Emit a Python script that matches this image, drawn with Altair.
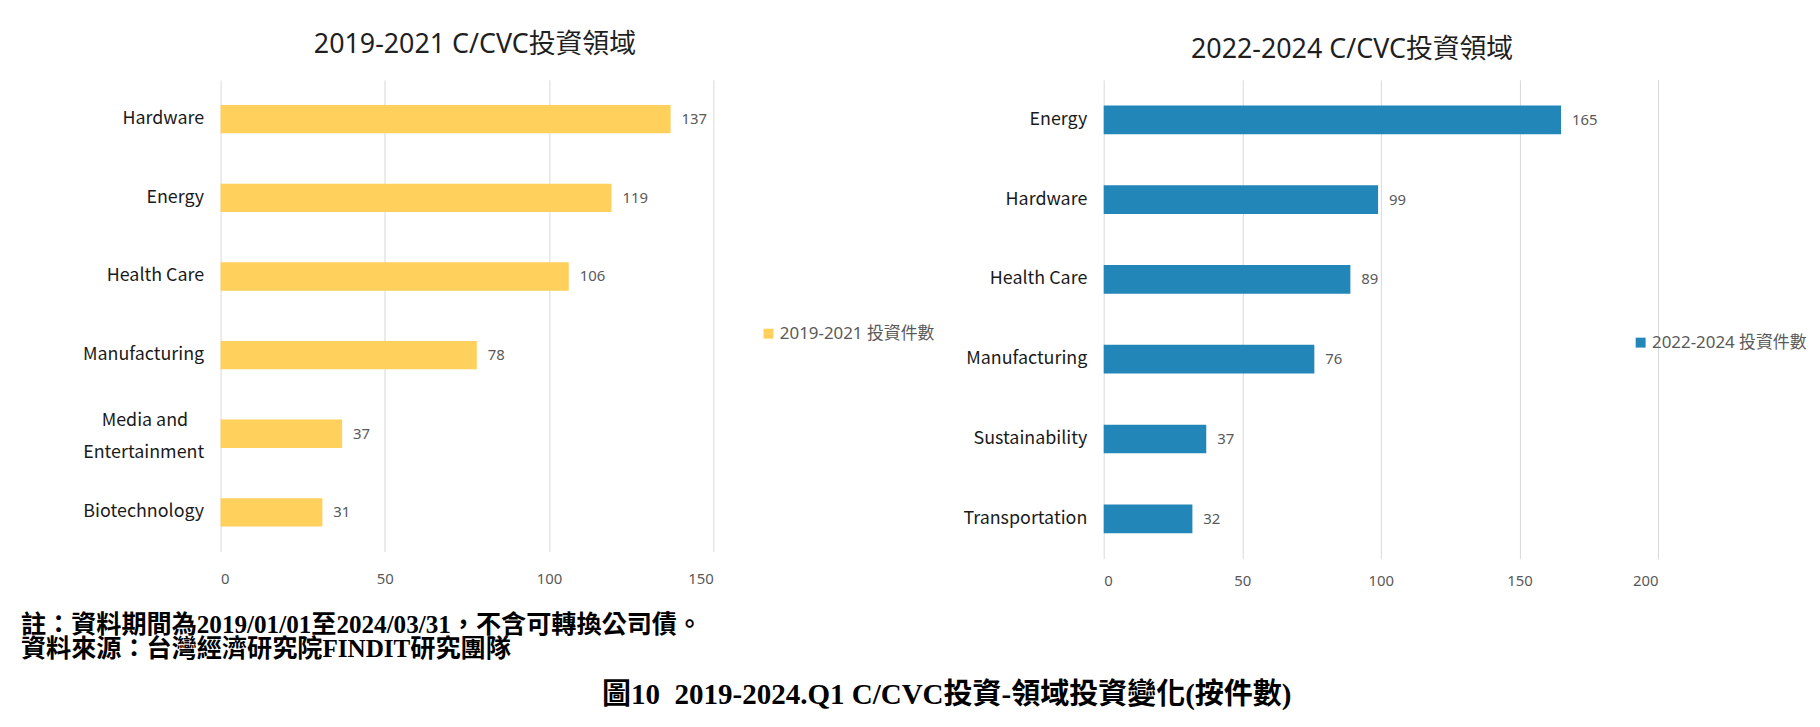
import altair as alt
import pandas as pd

# ---- data ----
left_cats = ["Hardware", "Energy", "Health Care", "Manufacturing", "Media and Entertainment", "Biotechnology"]
left_vals = [137, 119, 106, 78, 37, 31]
right_cats = ["Energy", "Hardware", "Health Care", "Manufacturing", "Sustainability", "Transportation"]
right_vals = [165, 99, 89, 76, 37, 32]
left_series = "2019-2021 投資件數"
right_series = "2022-2024 投資件數"
left_title = "2019-2021 C/CVC投資領域"
right_title = "2022-2024 C/CVC投資領域"
left_ticks = [0, 50, 100, 150]
right_ticks = [0, 50, 100, 150, 200]
notes = ["註：資料期間為2019/01/01至2024/03/31，不含可轉換公司債。",
         "資料來源：台灣經濟研究院FINDIT研究團隊"]
caption = "圖10\u00a0\u00a02019-2024.Q1 C/CVC投資-領域投資變化(按件數)"

SANS = "Noto Sans, Noto Sans CJK TC"
CJK = "Noto Sans CJK TC"
SERIF = "Liberation Serif, Noto Sans CJK TC"

label_expr = ("datum.label == 'Media and Entertainment' ? "
              "['Media and\u00a0\u00a0\u00a0\u00a0\u200b', 'Entertainment'] : datum.label")
two_line_test = "datum.label == 'Media and Entertainment'"


def panel(cats, vals, series, title, ticks, xmax, color, width, height,
          title_dx, title_offset, legend_x, legend_y, xlabel_pad, extra=()):
    df = pd.DataFrame({"cat": cats, "val": vals, "series": [series] * len(cats)})
    base = alt.Chart(df).encode(
        y=alt.Y("cat:N", sort=cats, title=None,
                scale=alt.Scale(paddingInner=0.64, paddingOuter=0.32),
                axis=alt.Axis(domain=False, ticks=False, grid=False, labelPadding=17,
                              labelFont=CJK, labelFontSize=18, labelColor="#1a1a1a",
                              labelLimit=400, labelLineHeight=32, labelExpr=label_expr,
                              labelOffset={"condition": {"test": two_line_test, "value": -13},
                                           "value": 0})),
    )
    xaxis = alt.Axis(values=ticks, domain=False, ticks=False, grid=True,
                     gridColor="#d9d9d9", gridWidth=1,
                     labelPadding=xlabel_pad, labelFont="Noto Sans",
                     labelFontSize=15, labelColor="#595959")
    bars = base.mark_bar().encode(
        x=alt.X("val:Q", title=None,
                scale=alt.Scale(domain=[0, xmax], nice=False),
                axis=xaxis),
        color=alt.Color("series:N",
                        scale=alt.Scale(domain=[series], range=[color]),
                        legend=alt.Legend(orient="none", legendX=legend_x, legendY=legend_y,
                                          title=None, symbolType="square", symbolSize=100,
                                          symbolStrokeWidth=0, labelFont=SANS,
                                          labelFontSize=17, labelColor="#595959",
                                          labelOffset=3, labelLimit=400)),
    )
    text = base.mark_text(align="left", baseline="middle", dx=11, font="Noto Sans",
                          fontSize=15, color="#595959").encode(
        x=alt.X("val:Q", title=None, axis=xaxis), text=alt.Text("val:Q"))
    return alt.layer(bars, text, *extra).properties(
        width=width, height=height,
        title=alt.TitleParams(title, anchor="middle", frame="group", dx=title_dx,
                              offset=title_offset, baseline="alphabetic",
                              font=SANS, fontSize=27, fontWeight="normal", color="#1f1f1f"))


# footnotes and caption (positioned relative to the left plot area)
note_layers = []
for i, n in enumerate(notes):
    note_layers.append(
        alt.Chart(pd.DataFrame({"t": [n]})).mark_text(
            align="left", baseline="middle", font=SERIF, fontSize=25.3,
            fontWeight="bold", color="#000000").encode(
            text="t:N", x=alt.value(-201), y=alt.value(549 + 24 * i)))
note_layers.append(
    alt.Chart(pd.DataFrame({"t": [caption]})).mark_text(
        align="center", baseline="middle", font=SERIF, fontSize=29.2,
        fontWeight="bold", color="#000000").encode(
        text="t:N", x=alt.value(731), y=alt.value(619)))

left = panel(left_cats, left_vals, left_series, left_title, left_ticks, 150, "#FFD05B",
             496, 475, 8, 0, 543, 247, 20, extra=note_layers)
right = panel(right_cats, right_vals, right_series, right_title, right_ticks, 200, "#2386B8",
              558, 482, -29, -5, 532, 256, 15)

chart = alt.hconcat(left, right, spacing=393, bounds="flush").resolve_scale(
    color="independent").resolve_legend(color="independent").properties(
    padding={"left": 13, "top": 21, "right": 5, "bottom": 5},
    background="white"
).configure_view(stroke="transparent", strokeWidth=0)

chart.save("out.html", embed_options={"renderer": "svg", "actions": False})
